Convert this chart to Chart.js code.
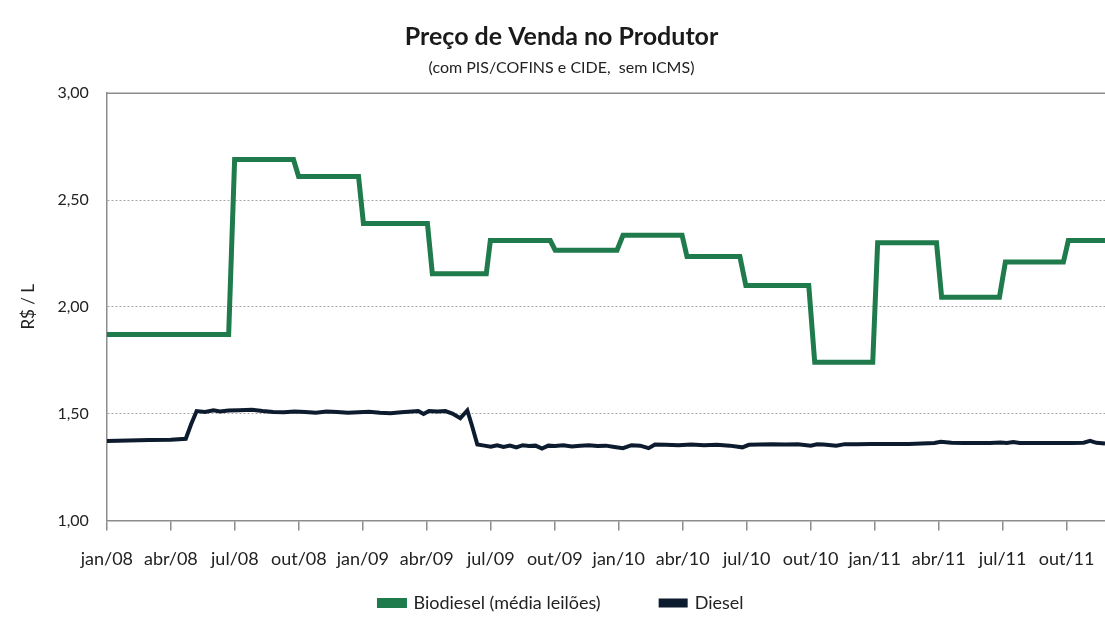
<!DOCTYPE html>
<html>
<head>
<meta charset="utf-8">
<script src="https://cdn.jsdelivr.net/npm/chart.js@4"></script>
<style>
  body { margin: 0; background: #fff; }
  #wrap { width: 1105px; height: 625px; }
</style>
</head>
<body>
<div id="wrap"><canvas id="chart" width="1105" height="625"></canvas></div>
<script>
// months counted from jan/08 (0 = jan/08, 3 = abr/08 ...)
const monthNames = ['jan', 'abr', 'jul', 'out']

const bioMonths = [0, 5.71, 5.99, 8.75, 8.99, 11.80, 12.03, 15.03, 15.26, 17.79, 17.98, 20.79, 21.02, 23.92, 24.20,
    26.97, 27.20, 29.68, 29.96, 32.91, 33.19, 35.91, 36.14, 38.90, 39.14, 41.85, 42.13, 44.85, 45.08, 46.8]
const bioValues = [1.87, 1.87, 2.69, 2.69, 2.61, 2.61, 2.39, 2.39, 2.155, 2.155, 2.31, 2.31, 2.265, 2.265, 2.335,
    2.335, 2.235, 2.235, 2.10, 2.10, 1.74, 1.74, 2.30, 2.30, 2.045, 2.045, 2.21, 2.21, 2.31, 2.31]

const dieselMonths = [0, 1, 2, 3, 3.7, 3.95, 4.21, 4.6, 5.0, 5.3, 5.7, 6.2, 6.8, 7.3, 7.8, 8.3, 8.8, 9.3, 9.8, 10.3,
    10.8, 11.3, 11.8, 12.3, 12.8, 13.3, 13.8, 14.3, 14.6, 14.85, 15.1, 15.5, 15.87, 16.2, 16.57, 16.9, 17.1, 17.37,
    17.7, 18.0, 18.3, 18.6, 18.9, 19.2, 19.5, 19.8, 20.1, 20.4, 20.7, 21.0, 21.4, 21.8, 22.2, 22.6, 23.0, 23.4, 23.8,
    24.2, 24.6, 25.0, 25.4, 25.7, 26.2, 26.8, 27.4, 28.0, 28.6, 29.2, 29.8, 30.1, 30.6, 31.2, 31.8, 32.4, 33.0, 33.3,
    33.6, 34.2, 34.6, 35.2, 35.8, 36.4, 37.0, 37.6, 38.2, 38.8, 39.1, 39.6, 40.2, 40.8, 41.4, 41.9, 42.2, 42.5, 42.8,
    43.4, 44.0, 44.6, 45.2, 45.8, 46.1, 46.4, 46.8]
const dieselValues = [1.372, 1.374, 1.376, 1.378, 1.382, 1.45, 1.512, 1.508, 1.515, 1.51, 1.514, 1.516, 1.518, 1.512,
    1.508, 1.506, 1.51, 1.508, 1.504, 1.51, 1.507, 1.504, 1.506, 1.509, 1.504, 1.502, 1.506, 1.51, 1.512, 1.498, 1.512,
    1.51, 1.512, 1.5, 1.478, 1.515, 1.45, 1.355, 1.35, 1.345, 1.352, 1.344, 1.35, 1.342, 1.352, 1.348, 1.35, 1.336,
    1.35, 1.348, 1.352, 1.346, 1.35, 1.352, 1.348, 1.35, 1.344, 1.338, 1.352, 1.35, 1.338, 1.355, 1.354, 1.352, 1.355,
    1.352, 1.354, 1.35, 1.342, 1.354, 1.355, 1.356, 1.355, 1.356, 1.35, 1.356, 1.355, 1.35, 1.357, 1.357, 1.358,
    1.358, 1.358, 1.358, 1.36, 1.362, 1.368, 1.364, 1.362, 1.362, 1.362, 1.365, 1.362, 1.367, 1.362, 1.362, 1.362,
    1.362, 1.362, 1.364, 1.372, 1.363, 1.36]

const yTicks = [1, 1.5, 2, 2.5, 3]

const toPoints = (xs, ys) => xs.map((x, i) => ({ x: x, y: ys[i] }))

const monthLabel = (m) => {
    const year = 8 + Math.floor(m / 12)
    return monthNames[(m % 12) / 3] + '/' + String(year).padStart(2, '0')
}

// solid line on top of the plot area (like the excel frame)
const topLine = {
    id: 'topLine',
    afterDraw(chart) {
        const { ctx, chartArea } = chart
        ctx.save()
        ctx.strokeStyle = '#8c8c8c'
        ctx.lineWidth = 1.5
        ctx.beginPath()
        ctx.moveTo(chartArea.left, chartArea.top)
        ctx.lineTo(chartArea.right, chartArea.top)
        ctx.stroke()
        ctx.restore()
    }
}

const font = 'Lato'

new Chart(document.getElementById('chart'), {
    type: 'line',
    data: {
        datasets: [{
            label: 'Biodiesel (média leilões)',
            data: toPoints(bioMonths, bioValues),
            borderColor: '#1f7a4c',
            backgroundColor: '#1f7a4c',
            borderWidth: 5,
            pointRadius: 0,
            tension: 0
        }, {
            label: 'Diesel',
            data: toPoints(dieselMonths, dieselValues),
            borderColor: '#0d1b2e',
            backgroundColor: '#0d1b2e',
            borderWidth: 4,
            pointRadius: 0,
            tension: 0
        }]
    },
    options: {
        responsive: false,
        animation: false,
        layout: { padding: { left: 18, right: 0, top: 0, bottom: 3 } },
        plugins: {
            title: {
                display: true,
                text: 'Preço de Venda no Produtor',
                color: '#1a1a1a',
                font: { family: font, size: 25, weight: 'bold' },
                padding: { top: 22, bottom: 6 }
            },
            subtitle: {
                display: true,
                text: '(com PIS/COFINS e CIDE,  sem ICMS)',
                color: '#222',
                font: { family: font, size: 16 },
                padding: { bottom: 16 }
            },
            legend: {
                position: 'bottom',
                labels: {
                    color: '#222',
                    font: { family: font, size: 18 },
                    boxWidth: 25,
                    boxHeight: 5,
                    padding: 6,
                    // wider gap between the two entries, as in the original
                    generateLabels: (chart) => {
                        const items = Chart.defaults.plugins.legend.labels.generateLabels(chart)
                        items[0].text = items[0].text + '\u2002'.repeat(6)
                        return items
                    }
                }
            },
            tooltip: { enabled: false }
        },
        scales: {
            x: {
                type: 'linear',
                min: 0,
                max: 46.8,
                afterBuildTicks: (axis) => {
                    const ticks = []
                    for (let m = 0; m <= 45; m += 3) ticks.push({ value: m })
                    axis.ticks = ticks
                },
                // plot runs right up to the edge of the picture
                afterFit: (axis) => { axis.paddingRight = 0 },
                ticks: {
                    color: '#222',
                    font: { family: font, size: 18 },
                    padding: 18,
                    maxRotation: 0,
                    autoSkip: false,
                    callback: (v) => monthLabel(v)
                },
                grid: {
                    drawOnChartArea: false,
                    drawTicks: true,
                    tickLength: 10,
                    color: '#8c8c8c',
                    lineWidth: 1.5
                },
                border: { color: '#8c8c8c', width: 1.5 }
            },
            y: {
                min: 1,
                max: 3,
                afterBuildTicks: (axis) => {
                    axis.ticks = yTicks.map(v => ({ value: v }))
                },
                ticks: {
                    color: '#222',
                    font: { family: font, size: 16 },
                    padding: 18,
                    callback: (v) => v.toFixed(2).replace('.', ',')
                },
                grid: {
                    drawTicks: false,
                    color: (c) => (c.tick && (c.tick.value === 1 || c.tick.value === 3)) ? 'rgba(0,0,0,0)' : '#a6a6a6',
                    lineWidth: 1
                },
                border: { color: '#8c8c8c', width: 1.5, dash: [2, 2] },
                title: {
                    display: true,
                    text: 'R$ / L',
                    color: '#222',
                    font: { family: font, size: 17 },
                    padding: { top: 0, bottom: 1 }
                }
            }
        }
    },
    plugins: [topLine]
})
</script>
</body>
</html>
